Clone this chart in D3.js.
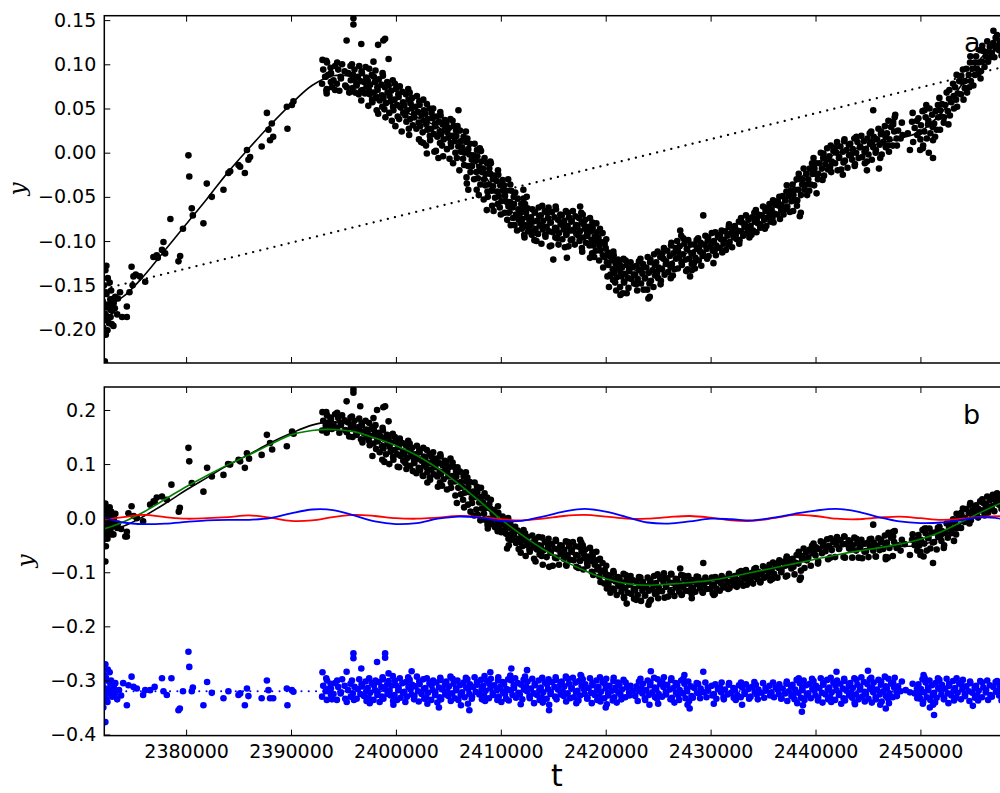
<!DOCTYPE html>
<html>
<head>
<meta charset="utf-8">
<title>Periodic model fit and residuals</title>
<style>
  body { margin: 0; background: #ffffff; }
  svg { display: block; font-family: "DejaVu Sans", sans-serif; }
</style>
</head>
<body>
<div id="chart"></div>
<script src="https://cdn.jsdelivr.net/npm/d3@7"></script>
<script>
// Times below are in thousands of days (2380 means t = 2380000)
var T_UNIT = 1000;

var xTicks = [2380000, 2390000, 2400000, 2410000, 2420000, 2430000, 2440000, 2450000];
var yTicksA = [-0.20, -0.15, -0.10, -0.05, 0.00, 0.05, 0.10, 0.15];
var yTicksB = [-0.4, -0.3, -0.2, -0.1, 0.0, 0.1, 0.2];

// sample times of the fitted curves
var tCurve = [2372,2374,2376,2378,2380,2382,2384,2386,2388,2390,2392,2394,2396,2398,2400,2402,2404,2406,2408,2410,2412,2414,2416,2418,2420,2422,2424,2426,2428,2430,2432,2434,2436,2438,2440,2442,2444,2446,2448,2450,2452,2454,2456,2458];

// panel a: full fit (black line)
var fitA = [-0.176,-0.163,-0.139,-0.110,-0.081,-0.052,-0.022,0.005,0.031,0.055,0.076,0.087,0.085,0.068,0.052,0.040,0.029,0.010,-0.018,-0.052,-0.077,-0.086,-0.089,-0.095,-0.112,-0.129,-0.135,-0.125,-0.112,-0.101,-0.093,-0.081,-0.058,-0.035,-0.014,-0.001,0.005,0.010,0.016,0.024,0.045,0.078,0.110,0.128];

// panel a: linear trend (dotted)
var trendT = [2372.2, 2458.6];
var trendA = [-0.154, 0.099];

// panel b: detrended fit (black), long component (green), short components (red, blue)
var fitB = [-0.022,-0.015,0.004,0.027,0.052,0.075,0.098,0.118,0.139,0.157,0.172,0.178,0.170,0.147,0.124,0.107,0.091,0.066,0.032,-0.009,-0.040,-0.055,-0.063,-0.075,-0.098,-0.121,-0.133,-0.129,-0.121,-0.116,-0.114,-0.108,-0.091,-0.072,-0.058,-0.052,-0.051,-0.052,-0.052,-0.050,-0.035,-0.008,0.019,0.033];
var greenB = [-0.021,-0.007,0.012,0.035,0.058,0.079,0.099,0.117,0.136,0.154,0.162,0.164,0.160,0.148,0.134,0.116,0.092,0.063,0.031,-0.002,-0.031,-0.057,-0.079,-0.097,-0.112,-0.121,-0.124,-0.122,-0.119,-0.115,-0.108,-0.100,-0.092,-0.084,-0.076,-0.068,-0.061,-0.055,-0.048,-0.039,-0.025,-0.006,0.013,0.031];
var redB = [-0.003,0.002,0.006,0.002,-0.001,0.000,0.002,0.005,0.001,-0.005,-0.004,0.002,0.006,0.004,0.000,-0.001,0.001,0.004,0.002,-0.002,-0.004,-0.001,0.004,0.006,0.003,-0.001,-0.001,0.002,0.004,0.001,-0.004,-0.005,0.000,0.006,0.004,-0.001,-0.002,0.001,0.003,0.000,-0.003,-0.001,0.003,0.004];
var blueB = [0.002,-0.008,-0.011,-0.010,-0.007,-0.004,-0.003,-0.003,0.000,0.009,0.016,0.015,0.005,-0.006,-0.011,-0.009,-0.001,0.003,0.001,-0.005,-0.005,0.003,0.012,0.017,0.012,0.002,-0.008,-0.010,-0.006,-0.001,-0.002,-0.004,0.001,0.008,0.014,0.017,0.012,0.002,-0.006,-0.009,-0.008,-0.003,0.002,-0.002];

// residual zero line (blue dotted)
var residLevel = -0.32;

// Observations. Dense parts are read as 0.5k-wide strips: [t, y, y, ...];
// isolated points as [t, y].
var colsA = [
[2372.3,-.133,-.142,-.150,-.160,-.168,-.175,-.182,-.190,-.198,-.206],
[2372.6,-.147,-.158,-.166,-.172,-.178,-.185,-.193,-.201],
[2372.9,-.156,-.165,-.172,-.179,-.186,-.194],
[2373.2,-.163,-.170,-.176,-.183,-.196],
[2393.2,.102,.094,.086,.078,.070],[2393.6,.104,.096,.088,.080,.072],[2394,.098,.090,.082,.074],
[2394.5,.102,.094,.086,.078,.070],[2395,.100,.092,.084,.076],[2395.5,.098,.090,.082,.074,.068],
[2396,.100,.094,.088,.083,.078,.073,.068],[2396.5,.098,.092,.086,.081,.076,.070,.066,.059],
[2397,.097,.090,.085,.080,.075,.071,.067],[2397.5,.095,.088,.082,.077,.072,.066,.060,.053],
[2398,.093,.086,.080,.074,.068,.062,.057,.048],[2398.5,.090,.083,.077,.071,.065,.059,.052,.044],
[2399,.087,.080,.074,.068,.062,.056,.049,.040],[2399.5,.082,.076,.070,.064,.058,.052,.045,.036],
[2400,.078,.072,.066,.060,.054,.048,.041,.030],[2400.5,.075,.069,.063,.057,.051,.045,.038,.024],
[2401,.072,.066,.060,.054,.048,.042,.035,.027],[2401.5,.068,.062,.056,.050,.044,.038,.031,.020],
[2402,.064,.058,.052,.046,.040,.034,.027,.015],[2402.5,.060,.054,.048,.042,.036,.030,.023,.012],
[2403,.055,.050,.044,.038,.032,.026,.019,.008],[2403.5,.050,.045,.039,.033,.027,.021,.014,.001],
[2404,.046,.041,.035,.030,.024,.018,.011,.002],[2404.5,.042,.037,.032,.027,.021,.015,.008,-.004],
[2405,.038,.033,.028,.023,.017,.011,.004,-.007],[2405.5,.036,.030,.025,.019,.013,.007,.000,-.012],
[2406,.030,.025,.019,.013,.007,.001,-.006,-.020],[2406.5,.024,.018,.012,.006,.000,-.007,-.014,-.028],
[2407,.016,.010,.004,-.002,-.008,-.015,-.022,-.035],[2407.5,.010,.003,-.003,-.009,-.015,-.022,-.030,-.042],
[2408,.002,-.004,-.010,-.016,-.022,-.029,-.036,-.048],[2408.5,-.006,-.012,-.018,-.024,-.030,-.037,-.044,-.053],
[2409,-.012,-.018,-.024,-.030,-.036,-.043,-.050,-.060],[2409.5,-.020,-.026,-.032,-.038,-.044,-.051,-.058,-.066],
[2410,-.025,-.031,-.037,-.043,-.049,-.055,-.062,-.070],[2410.5,-.030,-.037,-.043,-.049,-.055,-.061,-.068,-.076],
[2411,-.036,-.043,-.050,-.056,-.062,-.068,-.074,-.082],[2411.5,-.045,-.052,-.058,-.064,-.070,-.076,-.082,-.088],
[2412,-.052,-.058,-.064,-.069,-.075,-.080,-.086,-.093],[2412.5,-.058,-.063,-.068,-.073,-.078,-.083,-.089,-.096],
[2413,-.064,-.068,-.073,-.078,-.083,-.088,-.093,-.099],[2413.5,-.062,-.067,-.072,-.077,-.082,-.087,-.092,-.100],
[2414,-.060,-.066,-.071,-.077,-.082,-.087,-.093,-.103],[2414.5,-.062,-.068,-.074,-.079,-.084,-.089,-.095,-.106],
[2415,-.061,-.067,-.073,-.079,-.085,-.090,-.096,-.105],[2415.5,-.064,-.070,-.076,-.081,-.086,-.091,-.097,-.104],
[2416,-.066,-.071,-.077,-.082,-.087,-.092,-.098,-.107],[2416.5,-.068,-.073,-.078,-.083,-.088,-.093,-.099,-.106],
[2417,-.066,-.072,-.077,-.082,-.087,-.092,-.098,-.104],[2417.5,-.068,-.074,-.079,-.084,-.089,-.094,-.100,-.108],
[2418,-.070,-.076,-.081,-.086,-.091,-.096,-.102,-.112],[2418.5,-.074,-.079,-.084,-.089,-.094,-.099,-.105,-.114],
[2419,-.080,-.085,-.090,-.095,-.100,-.105,-.111,-.118],[2419.5,-.086,-.091,-.096,-.101,-.106,-.111,-.116,-.122],
[2420,-.098,-.103,-.108,-.113,-.118,-.124,-.130,-.140],[2420.5,-.112,-.117,-.122,-.127,-.132,-.138,-.144,-.152],
[2421,-.116,-.121,-.126,-.131,-.136,-.141,-.147,-.156],[2421.5,-.120,-.125,-.130,-.135,-.140,-.146,-.152,-.159],
[2422,-.122,-.127,-.132,-.137,-.142,-.147,-.153],[2422.5,-.124,-.129,-.134,-.138,-.143,-.148],
[2423,-.123,-.128,-.133,-.138,-.143,-.149,-.156],[2423.5,-.120,-.126,-.132,-.137,-.142,-.148,-.155],
[2424,-.118,-.124,-.130,-.136,-.142,-.148,-.155,-.163],[2424.5,-.115,-.121,-.127,-.133,-.139,-.145,-.152],
[2425,-.112,-.118,-.124,-.130,-.136,-.142,-.149],[2425.5,-.108,-.114,-.120,-.126,-.132,-.138,-.145],
[2426,-.105,-.111,-.117,-.123,-.129,-.135,-.142],[2426.5,-.102,-.108,-.114,-.120,-.126,-.132,-.139],
[2427,-.094,-.100,-.106,-.112,-.118,-.124,-.131],[2427.5,-.097,-.103,-.109,-.115,-.121,-.127,-.134],
[2428,-.099,-.104,-.109,-.114,-.120,-.126,-.132],[2428.5,-.099,-.104,-.109,-.114,-.119,-.125,-.131],
[2429,-.097,-.102,-.107,-.112,-.117,-.122,-.128],[2429.5,-.094,-.099,-.104,-.109,-.114,-.120],
[2430,-.091,-.096,-.101,-.106,-.111,-.117],[2430.5,-.090,-.095,-.100,-.105,-.110,-.116],
[2431,-.088,-.093,-.098,-.103,-.108,-.113],[2431.5,-.084,-.089,-.094,-.099,-.104,-.110],
[2432,-.081,-.086,-.091,-.096,-.101,-.107],[2432.5,-.078,-.083,-.088,-.093,-.098,-.103],
[2433,-.074,-.079,-.084,-.089,-.094,-.099],[2433.5,-.071,-.076,-.081,-.086,-.091,-.096],
[2434,-.068,-.073,-.078,-.083,-.088,-.093],[2434.5,-.065,-.070,-.075,-.080,-.085,-.090],
[2435,-.061,-.066,-.071,-.076,-.081,-.086],[2435.5,-.058,-.063,-.068,-.073,-.078,-.083],
[2436,-.054,-.059,-.064,-.069,-.074,-.079],[2436.5,-.050,-.055,-.060,-.065,-.070,-.075],
[2437,-.044,-.049,-.054,-.059,-.064,-.070],[2437.5,-.037,-.043,-.049,-.055,-.061,-.067],
[2438,-.030,-.036,-.042,-.048,-.054,-.060,-.066],[2438.5,-.024,-.030,-.036,-.042,-.048,-.054],
[2439,-.018,-.024,-.030,-.036,-.042,-.048],[2439.5,-.012,-.018,-.024,-.030,-.036,-.043],
[2440,-.006,-.012,-.018,-.024,-.030,-.037],[2440.5,.000,-.006,-.012,-.018,-.024,-.031],
[2441,.005,-.001,-.007,-.013,-.019,-.026],[2441.5,.008,.002,-.004,-.010,-.016,-.022],
[2442,.012,.006,.000,-.006,-.012,-.020],[2442.5,.013,.007,.001,-.005,-.011,-.019],
[2443,.015,.009,.003,-.003,-.009,-.017],[2443.5,.016,.010,.004,-.002,-.008,-.015],
[2444,.018,.012,.006,.000,-.006,-.013],[2444.5,.019,.013,.007,.001,-.005,-.012],
[2445,.022,.016,.010,.004,-.002,-.010],[2445.5,.024,.018,.012,.006,.000,-.008],
[2446,.027,.021,.015,.009,.003,-.006],[2446.5,.030,.024,.018,.012,.006,-.002],
[2447,.036,.029,.022,.015,.008,.001],[2447.5,.040,.032,.024,.016,.008],
[2448,.034,.025,.016,.008],
[2449.5,.045,.036,.028,.020,.012],[2450,.047,.039,.031,.023,.015,.005],[2450.5,.048,.040,.032,.024,.016,.008],
[2451,.050,.043,.036,.029,.022,.014],[2451.5,.054,.047,.040,.033,.026,.018],
[2452,.062,.055,.048,.041,.034,.026],[2452.5,.068,.061,.054,.047,.040,.032],
[2453,.078,.071,.064,.057,.050,.042],[2453.5,.088,.081,.074,.067,.060,.052],
[2454,.094,.087,.080,.073,.066,.060],[2454.5,.102,.095,.088,.081,.074,.068],
[2455,.109,.102,.095,.088,.081,.076],[2455.5,.116,.109,.102,.095,.089,.084],
[2456,.121,.115,.109,.103,.097,.092],[2456.5,.126,.120,.114,.108,.103],
[2457,.130,.124,.118,.113,.108],[2457.5,.133,.127,.121,.116,.110],
[2458,.136,.130,.124,.119,.114],[2458.5,.138,.132,.126,.121]
];
var sparseA = [
[2372.25,-.236],[2372.4,-.128],[2373.5,-.165],[2373.7,-.158],[2373.9,-.186],[2374.35,-.174],[2374.35,-.186],
[2374.8,-.129],[2374.98,-.140],[2375.2,-.138],[2375.6,-.140],[2376.1,-.146],[2374.6,-.158],[2374.9,-.150],
[2376.88,-.118],[2377.2,-.116],[2377.3,-.119],[2377.7,-.110],[2377.84,-.101],[2378.0,-.114],[2378.5,-.075],
[2379.27,-.123],[2379.43,-.117],[2379.7,-.086],[2380.22,-.003],[2380.3,-.027],[2380.54,-.063],[2380.64,-.071],
[2381.65,-.080],[2381.97,-.035],[2382.45,-.050],[2383.56,-.042],[2384.03,-.023],[2384.2,-.021],[2384.99,-.014],
[2385.15,-.016],[2385.6,-.023],[2385.8,.003],[2385.94,-.008],[2386.1,-.005],[2387.2,.007],[2387.7,.045],
[2387.85,.026],[2388.0,.014],[2388.3,.018],[2388.17,.033],[2389.6,.052],[2389.66,.027],[2390.08,.054],[2390.23,.058],
[2393.4,.067],[2393.25,.086],[2394.2,.071],[2395.95,.152],[2395.95,.145],[2395.3,.127],[2396.7,.123],[2398.3,.122],
[2398.97,.129],[2398.8,.127],[2399.3,.106],[2397.86,.103],[2393.0,.105],
[2402.6,.011],[2402.95,-.001],[2404.05,-.006],[2405.96,.048],[2408.0,.005],[2409.0,-.010],[2406.9,-.042],
[2408.66,-.065],[2412.15,-.042],[2412.47,-.050],[2417.56,-.061],[2415.0,-.121],[2416.3,-.119],[2418.5,-.119],
[2421.4,-.161],[2422.0,-.159],[2424.07,-.165],[2427.1,-.088],[2428.2,-.133],[2429.3,-.071],[2430.27,-.125],
[2428.04,-.140],[2438.5,-.072],[2438.6,-.068],[2440.1,-.046],[2442.6,-.025],[2445.5,.048],[2444.9,-.020],
[2446.05,-.018],[2447.6,.043],[2447.4,.035],[2449.0,.003],[2449.97,.003],[2450.8,.000],[2451.2,-.006],
[2450.56,.054],[2456.96,.138],[2448.3,.020],[2448.8,.022],[2449.2,.035]
];

// panel b observations after removing the trend
var colsB = [
[2372.3,.027,.018,.010,.002,-.006,-.014,-.022,-.030,-.040,-.052],
[2372.6,.020,.011,.003,-.005,-.013,-.021,-.029,-.038],
[2372.9,.012,.004,-.004,-.012,-.020,-.030],
[2373.2,.008,-.002,-.010,-.018,-.030],
[2393.2,.190,.180,.171,.162],[2393.6,.196,.186,.177,.168,.160],[2394,.192,.183,.174,.165],
[2394.5,.195,.185,.176,.167,.158],[2395,.190,.181,.172,.163],[2395.5,.186,.177,.168,.159,.151],
[2396,.188,.180,.172,.165,.158,.150],[2396.5,.184,.176,.168,.161,.154,.146],
[2397,.180,.172,.164,.157,.149,.140],[2397.5,.176,.168,.160,.152,.144,.135],
[2398,.172,.163,.155,.147,.138,.128,.115],[2398.5,.167,.158,.150,.142,.133,.122,.108],
[2399,.162,.154,.146,.138,.129,.118,.104],[2399.5,.156,.148,.140,.132,.123,.113,.100],
[2400,.150,.142,.134,.126,.118,.108,.095],[2400.5,.147,.139,.131,.123,.115,.106,.094],
[2401,.143,.135,.127,.119,.111,.102,.091],[2401.5,.138,.130,.122,.114,.106,.097,.087],
[2402,.134,.126,.118,.110,.102,.093,.083],[2402.5,.130,.122,.114,.106,.098,.089,.079],
[2403,.126,.118,.110,.102,.094,.085,.075],[2403.5,.122,.114,.106,.098,.090,.081,.071],
[2404,.118,.110,.102,.094,.086,.077,.066],[2404.5,.114,.106,.098,.090,.082,.072,.060],
[2405,.110,.102,.094,.086,.077,.066,.053],[2405.5,.103,.095,.087,.078,.068,.056,.042],
[2406,.094,.086,.077,.067,.056,.044,.028],[2406.5,.085,.077,.068,.058,.047,.034,.020],
[2407,.075,.067,.058,.048,.037,.025,.012],[2407.5,.066,.058,.049,.039,.028,.016,.005],
[2408,.056,.048,.039,.029,.018,.006,-.004],[2408.5,.046,.038,.029,.019,.008,-.003,-.012],
[2409,.034,.026,.018,.009,-.001,-.011,-.019],[2409.5,.022,.015,.007,-.001,-.009,-.017,-.024],
[2410,.010,.003,-.004,-.011,-.018,-.026],[2410.5,.000,-.007,-.014,-.021,-.029,-.038],
[2411,-.010,-.017,-.024,-.031,-.039,-.050],[2411.5,-.016,-.023,-.030,-.038,-.046,-.057],
[2412,-.022,-.029,-.036,-.044,-.052,-.064],[2412.5,-.028,-.035,-.042,-.050,-.058,-.070],
[2413,-.032,-.039,-.046,-.054,-.062,-.075],[2413.5,-.035,-.042,-.050,-.058,-.067,-.080],
[2414,-.036,-.044,-.052,-.060,-.070,-.086],[2414.5,-.038,-.046,-.054,-.062,-.072,-.090],
[2415,-.040,-.048,-.056,-.064,-.073,-.088],[2415.5,-.042,-.050,-.058,-.066,-.074,-.086],
[2416,-.043,-.051,-.059,-.067,-.075,-.086],[2416.5,-.044,-.052,-.060,-.068,-.077,-.088],
[2417,-.044,-.052,-.060,-.068,-.078,-.090],[2417.5,-.045,-.053,-.061,-.069,-.079,-.092],
[2418,-.050,-.058,-.066,-.074,-.083,-.095],[2418.5,-.055,-.063,-.071,-.079,-.088,-.099],
[2419,-.062,-.070,-.078,-.086,-.095,-.105],[2419.5,-.075,-.083,-.091,-.099,-.108,-.118],
[2420,-.088,-.096,-.104,-.112,-.121,-.130],[2420.5,-.098,-.106,-.114,-.122,-.130,-.138],
[2421,-.101,-.109,-.117,-.125,-.133,-.142],[2421.5,-.103,-.111,-.119,-.127,-.136,-.146],
[2422,-.105,-.113,-.121,-.129,-.138,-.148],[2422.5,-.107,-.115,-.123,-.131,-.140,-.149],
[2423,-.109,-.117,-.125,-.133,-.142,-.151],[2423.5,-.110,-.118,-.126,-.134,-.143,-.153],
[2424,-.110,-.118,-.126,-.134,-.143,-.154],[2424.5,-.107,-.115,-.123,-.131,-.140,-.151],
[2425,-.104,-.112,-.120,-.128,-.137,-.148],[2425.5,-.102,-.110,-.118,-.126,-.135,-.147],
[2426,-.103,-.111,-.119,-.127,-.135,-.145],[2426.5,-.104,-.112,-.120,-.128,-.136,-.144],
[2427,-.105,-.113,-.121,-.129,-.136,-.142],[2427.5,-.106,-.113,-.120,-.127,-.134,-.141],
[2428,-.107,-.114,-.121,-.128,-.135,-.140],[2428.5,-.108,-.115,-.122,-.129,-.136],
[2429,-.109,-.116,-.123,-.130,-.137],[2429.5,-.110,-.117,-.124,-.131,-.138],
[2430,-.110,-.117,-.124,-.131,-.139],[2430.5,-.109,-.116,-.123,-.130,-.140],
[2431,-.107,-.114,-.121,-.128,-.134],[2431.5,-.105,-.112,-.119,-.126,-.131],
[2432,-.103,-.110,-.117,-.124,-.129],[2432.5,-.100,-.107,-.114,-.121,-.127],
[2433,-.098,-.105,-.112,-.119,-.125],[2433.5,-.096,-.103,-.110,-.117,-.123],
[2434,-.094,-.101,-.108,-.115,-.121],[2434.5,-.092,-.099,-.106,-.113,-.119],
[2435,-.089,-.096,-.103,-.110,-.117],[2435.5,-.086,-.093,-.100,-.107,-.115],
[2436,-.082,-.089,-.096,-.103,-.112],[2436.5,-.078,-.085,-.092,-.100,-.110],
[2437,-.074,-.081,-.088,-.096,-.108],[2437.5,-.071,-.078,-.085,-.093,-.106],
[2438,-.068,-.075,-.082,-.090,-.104],[2438.5,-.062,-.069,-.076,-.084,-.097],
[2439,-.056,-.063,-.070,-.078,-.092],[2439.5,-.051,-.058,-.065,-.073,-.088],
[2440,-.047,-.054,-.061,-.069,-.084],[2440.5,-.043,-.050,-.057,-.065,-.080],
[2441,-.039,-.046,-.053,-.061,-.076],[2441.5,-.037,-.044,-.051,-.059,-.073],
[2442,-.035,-.042,-.049,-.057,-.072],[2442.5,-.034,-.041,-.048,-.056,-.072],
[2443,-.034,-.041,-.048,-.056,-.073],[2443.5,-.036,-.043,-.050,-.058,-.073],
[2444,-.038,-.045,-.052,-.060,-.073],[2444.5,-.040,-.047,-.054,-.062,-.074],
[2445,-.039,-.046,-.053,-.061,-.072],[2445.5,-.038,-.045,-.052,-.060,-.071],
[2446,-.037,-.044,-.051,-.059,-.071],[2446.5,-.032,-.040,-.048,-.057,-.072],
[2447,-.027,-.036,-.045,-.055,-.073],[2447.5,-.024,-.034,-.044,-.055,-.070],
[2448,-.040,-.050,-.060],
[2449.5,-.030,-.040,-.050,-.060],[2450,-.022,-.031,-.040,-.050,-.062],
[2450.5,-.019,-.028,-.037,-.047,-.060],[2451,-.019,-.027,-.036,-.045,-.056],
[2451.5,-.018,-.026,-.035,-.044,-.058],[2452,-.016,-.024,-.033,-.042,-.055],
[2452.5,-.010,-.018,-.027,-.036,-.050],[2453,-.002,-.010,-.019,-.028,-.042],
[2453.5,.008,.000,-.009,-.018,-.030],[2454,.018,.010,.002,-.007,-.018],
[2454.5,.025,.017,.009,.000,-.010],[2455,.028,.021,.014,.006,-.004],
[2455.5,.031,.024,.017,.010,.001],[2456,.035,.028,.021,.014,.005],
[2456.5,.040,.033,.026,.019,.010],[2457,.043,.036,.029,.022,.013],
[2457.5,.046,.039,.032,.025,.017],[2458,.048,.041,.034,.027,.020],[2458.5,.050,.043,.036,.029]
];
var sparseB = [
[2372.3,-.080],[2373.5,-.010],[2373.8,-.020],[2374.2,-.034],[2374.8,.022],[2374.5,.009],[2374.35,-.034],
[2374.35,-.025],[2375.0,.004],[2375.3,.000],[2375.9,-.006],[2376.57,.025],[2376.9,.031],[2377.7,.040],
[2378.16,.034],[2378.6,.062],[2379.4,.019],[2379.3,.012],[2380.22,.130],[2380.3,.105],[2380.54,.065],
[2381.65,.049],[2382.0,.093],[2382.45,.077],[2383.56,.080],[2384.2,.099],[2385.15,.105],[2385.6,.093],
[2385.8,.120],[2385.0,.108],[2387.2,.117],[2387.7,.154],[2388.0,.139],[2388.2,.127],[2389.6,.133],
[2390.1,.160],[2390.25,.156],[2377.2,.038],[2377.0,.030],[2384.0,.100],[2386.0,.110],
[2395.3,.216],[2395.95,.238],[2395.95,.232],[2396.6,.207],[2398.2,.200],[2398.97,.207],[2399.3,.179],
[2397.86,.185],[2398.8,.205],[2393.4,.158],[2393.0,.196],
[2417.56,-.040],[2422.0,-.158],[2424.07,-.160],[2427.1,-.093],[2429.3,-.083],[2430.3,-.142],[2428.2,-.148],
[2438.5,-.114],[2438.6,-.110],[2445.5,-.012],[2447.4,-.025],[2446.7,-.076],[2449.0,-.068],[2450.0,-.068],
[2450.3,-.071],[2451.2,-.083],[2450.56,-.019],[2456.9,.043],[2448.5,-.048],[2449.2,-.040],[2411.0,-.040],
[2402.6,.078],[2403.0,.066],[2404.0,.058],[2410.6,-.056]
];

// panel b residuals (blue points, drawn around the -0.32 level)
var colsR = [
[2372.3,-.270,-.280,-.290,-.300,-.310,-.320,-.330,-.340,-.350],
[2372.6,-.285,-.295,-.305,-.315,-.325,-.335],
[2372.9,-.300,-.310,-.320,-.330],[2373.2,-.305,-.315,-.325,-.335],
[2393.2,-.300,-.310,-.320,-.330],[2393.6,-.296,-.306,-.316,-.326,-.336],[2394,-.305,-.315,-.325,-.335],
[2394.5,-.300,-.312,-.324,-.336],[2395,-.298,-.310,-.322,-.334],[2395.5,-.306,-.318,-.330,-.340],
[2396,-.300,-.312,-.324,-.336],
[2396.5,-.298,-.307,-.316,-.325,-.334],[2397,-.302,-.311,-.320,-.329,-.338],
[2397.5,-.296,-.305,-.314,-.323,-.332,-.342],[2398,-.300,-.309,-.318,-.327,-.336],
[2398.5,-.294,-.303,-.312,-.321,-.330,-.340],[2399,-.298,-.307,-.316,-.325,-.334],
[2399.5,-.292,-.301,-.310,-.319,-.328,-.338],[2400,-.300,-.309,-.318,-.327,-.336,-.345],
[2400.5,-.296,-.305,-.314,-.323,-.332],[2401,-.294,-.303,-.312,-.321,-.330,-.340],
[2401.5,-.299,-.308,-.317,-.326,-.335],[2402,-.293,-.302,-.311,-.320,-.329,-.339],
[2402.5,-.298,-.307,-.316,-.325,-.334],[2403,-.296,-.305,-.314,-.323,-.332,-.343],
[2403.5,-.300,-.309,-.318,-.327,-.336],[2404,-.295,-.304,-.313,-.322,-.331,-.341],
[2404.5,-.299,-.308,-.317,-.326,-.335],[2405,-.293,-.302,-.311,-.320,-.329,-.338],
[2405.5,-.297,-.306,-.315,-.324,-.333],[2406,-.300,-.309,-.318,-.327,-.336,-.346],
[2406.5,-.295,-.304,-.313,-.322,-.331],[2407,-.298,-.307,-.316,-.325,-.334,-.343],
[2407.5,-.294,-.303,-.312,-.321,-.330],[2408,-.299,-.308,-.317,-.326,-.335],
[2408.5,-.292,-.301,-.310,-.319,-.328,-.338],[2409,-.297,-.306,-.315,-.324,-.333],
[2409.5,-.300,-.309,-.318,-.327,-.336],[2410,-.294,-.303,-.312,-.321,-.330,-.340],
[2410.5,-.298,-.307,-.316,-.325,-.334],[2411,-.291,-.300,-.309,-.318,-.327,-.337],
[2411.5,-.296,-.305,-.314,-.323,-.332],[2412,-.299,-.308,-.317,-.326,-.335,-.344],
[2412.5,-.293,-.302,-.311,-.320,-.329],[2413,-.297,-.306,-.315,-.324,-.333,-.342],
[2413.5,-.300,-.309,-.318,-.327,-.336],[2414,-.295,-.304,-.313,-.322,-.331,-.341],
[2414.5,-.298,-.307,-.316,-.325,-.334,-.345],[2415,-.294,-.303,-.312,-.321,-.330],
[2415.5,-.299,-.308,-.317,-.326,-.335],[2416,-.293,-.302,-.311,-.320,-.329,-.339],
[2416.5,-.297,-.306,-.315,-.324,-.333],[2417,-.295,-.304,-.313,-.322,-.331,-.342],
[2417.5,-.292,-.301,-.310,-.319,-.328,-.337],[2418,-.298,-.307,-.316,-.325,-.334],
[2418.5,-.296,-.305,-.314,-.323,-.332,-.342],[2419,-.300,-.309,-.318,-.327,-.336],
[2419.5,-.294,-.303,-.312,-.321,-.330,-.339],[2420,-.297,-.306,-.315,-.324,-.333,-.344],
[2420.5,-.301,-.310,-.319,-.328,-.337],[2421,-.295,-.304,-.313,-.322,-.331,-.341],
[2421.5,-.299,-.308,-.317,-.326,-.335],[2422,-.304,-.313,-.322,-.331],[2422.5,-.310,-.319,-.328],
[2423,-.302,-.311,-.320,-.329,-.338],[2423.5,-.297,-.306,-.315,-.324,-.333],
[2424,-.300,-.309,-.318,-.327,-.336,-.345],[2424.5,-.295,-.304,-.313,-.322,-.331],
[2425,-.298,-.307,-.316,-.325,-.334,-.343],[2425.5,-.294,-.303,-.312,-.321,-.330],
[2426,-.299,-.308,-.317,-.326,-.335],[2426.5,-.296,-.305,-.314,-.323,-.332,-.341],
[2427,-.300,-.309,-.318,-.327,-.336],[2427.5,-.297,-.306,-.315,-.324,-.333],
[2428,-.302,-.311,-.320,-.329,-.338],[2428.5,-.305,-.314,-.323,-.332],
[2429,-.306,-.315,-.324,-.333],[2429.5,-.304,-.313,-.322,-.331],[2430,-.310,-.319,-.328],
[2430.5,-.307,-.316,-.325,-.334],[2431,-.304,-.313,-.322,-.331],[2431.5,-.308,-.317,-.326,-.335],
[2432,-.305,-.314,-.323,-.332],[2432.5,-.309,-.318,-.327,-.336],[2433,-.304,-.313,-.322,-.331],
[2433.5,-.307,-.316,-.325,-.334],[2434,-.303,-.312,-.321,-.330],[2434.5,-.308,-.317,-.326,-.335],
[2435,-.305,-.314,-.323,-.332],[2435.5,-.310,-.319,-.328],[2436,-.304,-.313,-.322,-.331],
[2436.5,-.307,-.316,-.325,-.334],[2437,-.306,-.315,-.324,-.333],
[2437.5,-.302,-.311,-.320,-.329,-.338],[2438,-.299,-.308,-.317,-.326,-.335],
[2438.5,-.296,-.305,-.314,-.323,-.332,-.342],[2439,-.300,-.309,-.318,-.327,-.336],
[2439.5,-.297,-.306,-.315,-.324,-.333],[2440,-.301,-.310,-.319,-.328,-.337],
[2440.5,-.296,-.305,-.314,-.323,-.332,-.341],[2441,-.299,-.308,-.317,-.326,-.335],
[2441.5,-.295,-.304,-.313,-.322,-.331,-.340],[2442,-.300,-.309,-.318,-.327,-.336],
[2442.5,-.297,-.306,-.315,-.324,-.333,-.343],[2443,-.301,-.310,-.319,-.328,-.337],
[2443.5,-.296,-.305,-.314,-.323,-.332,-.341],[2444,-.299,-.308,-.317,-.326,-.335,-.344],
[2444.5,-.294,-.303,-.312,-.321,-.330,-.339],[2445,-.298,-.307,-.316,-.325,-.334],
[2445.5,-.295,-.304,-.313,-.322,-.331,-.341],[2446,-.299,-.308,-.317,-.326,-.335,-.345],
[2446.5,-.293,-.302,-.311,-.320,-.329,-.339],[2447,-.297,-.306,-.315,-.324,-.333,-.342],
[2447.5,-.295,-.304,-.313,-.322,-.331],[2448,-.302,-.311,-.320,-.329],
[2449.5,-.306,-.315,-.324,-.333],[2450,-.298,-.307,-.316,-.325,-.334,-.343],
[2450.5,-.295,-.304,-.313,-.322,-.331,-.340],[2451,-.300,-.309,-.318,-.327,-.336,-.345],
[2451.5,-.296,-.305,-.314,-.323,-.332,-.341],[2452,-.299,-.308,-.317,-.326,-.335],
[2452.5,-.297,-.306,-.315,-.324,-.333,-.342],[2453,-.301,-.310,-.319,-.328,-.337],
[2453.5,-.296,-.305,-.314,-.323,-.332],[2454,-.299,-.308,-.317,-.326,-.335],
[2454.5,-.302,-.311,-.320,-.329,-.338],[2455,-.305,-.314,-.323,-.332],
[2455.5,-.301,-.310,-.319,-.328,-.337],[2456,-.304,-.313,-.322,-.331],
[2456.5,-.300,-.309,-.318,-.327,-.336],[2457,-.303,-.312,-.321,-.330],
[2457.5,-.301,-.310,-.319,-.328,-.337],[2458,-.304,-.313,-.322,-.331],[2458.5,-.302,-.311,-.320,-.329]
];
var sparseR = [
[2372.3,-.377],[2374.8,-.293],[2374.5,-.309],[2374.35,-.346],[2374.98,-.312],[2375.3,-.315],[2375.9,-.327],
[2376.1,-.318],[2376.57,-.318],[2377.0,-.312],[2377.7,-.296],[2377.84,-.320],[2378.16,-.327],[2378.6,-.296],
[2379.4,-.352],[2379.27,-.355],[2379.7,-.320],[2380.22,-.247],[2380.3,-.275],[2380.54,-.320],[2380.64,-.313],
[2381.65,-.346],[2382.0,-.303],[2382.45,-.323],[2383.56,-.333],[2384.03,-.320],[2384.99,-.327],[2385.15,-.324],
[2385.6,-.346],[2385.8,-.315],[2385.94,-.329],[2387.2,-.333],[2387.7,-.300],[2387.85,-.318],[2388.0,-.333],
[2388.3,-.333],[2389.6,-.315],[2389.66,-.346],[2390.08,-.318],[2390.23,-.321],[2373.6,-.318],[2373.8,-.328],
[2374.0,-.305],
[2395.95,-.250],[2395.95,-.259],[2395.3,-.284],[2396.7,-.278],[2398.2,-.266],[2398.97,-.250],[2398.97,-.258],
[2399.3,-.287],[2393.0,-.285],[2411.0,-.278],[2412.5,-.281],[2417.6,-.290],[2414.6,-.355],[2427.5,-.290],
[2427.8,-.345],[2407.0,-.355],[2404.1,-.350],[2429.3,-.284],[2445.0,-.282],[2450.3,-.290],[2438.7,-.358],
[2438.8,-.346],[2446.7,-.352],[2450.9,-.350],[2451.3,-.364],[2428.0,-.352],[2430.3,-.343],[2420.0,-.350],
[2448.6,-.318],[2449.0,-.322],[2401.5,-.283],[2409.0,-.285],[2424.3,-.283],[2433.0,-.345],[2442.0,-.284],
[2455.0,-.347]
];

// ---------- layout ----------
var W = 1000, H = 793;
var left = 104.3, right = 1010;      // right spine falls just outside the picture
var panelA = {top: 15.7, bottom: 363, domain: [-0.238, 0.155]};
var panelB = {top: 387, bottom: 735.6, domain: [-0.402, 0.2425]};

// samples of one strip are spread over the strip width (in thousands of days)
var stripSpread = [0, 0.23, -0.13, 0.11, -0.24, 0.17, -0.05, 0.2, -0.19, 0.05, -0.1];

var svg = d3.select("#chart").append("svg")
  .attr("width", W).attr("height", H);

var x = d3.scaleLinear()
  .domain([2372200, 2458540])
  .range([left, right]);

function flatten(cols, singles) {
  var out = [];
  cols.forEach(function(c, j) {
    c.slice(1).forEach(function(v, i) {
      var dt = stripSpread[(i + j * 3) % stripSpread.length];
      out.push([(c[0] + dt) * T_UNIT, v]);
    });
  });
  singles.forEach(function(p) { out.push([p[0] * T_UNIT, p[1]]); });
  return out;
}

function curve(ts, vals) {
  return ts.map(function(t, i) { return [t * T_UNIT, vals[i]]; });
}

function makePanel(p, id, yTicks, fmt, showXLabels) {
  var y = d3.scaleLinear().domain(p.domain).range([p.bottom, p.top]);

  svg.append("clipPath").attr("id", id)
    .append("rect")
      .attr("x", left).attr("y", p.top)
      .attr("width", right - left).attr("height", p.bottom - p.top);

  var plot = svg.append("g").attr("clip-path", "url(#" + id + ")");

  // axes with inward ticks
  var yAxis = svg.append("g")
    .attr("transform", "translate(" + left + ",0)")
    .call(d3.axisLeft(y).tickValues(yTicks).tickFormat(d3.format(fmt))
      .tickSize(-6).tickPadding(8));
  var xAxis = svg.append("g")
    .attr("transform", "translate(0," + p.bottom + ")")
    .call(d3.axisBottom(x).tickValues(xTicks).tickFormat(showXLabels ? d3.format("d") : "")
      .tickSize(-6).tickPadding(9));
  var xTop = svg.append("g")
    .attr("transform", "translate(0," + p.top + ")")
    .call(d3.axisTop(x).tickValues(xTicks).tickFormat("").tickSize(-6));

  [yAxis, xAxis, xTop].forEach(function(a) {
    a.select(".domain").remove();
    a.selectAll(".tick line").attr("stroke", "#000").attr("stroke-width", 1);
    a.selectAll(".tick text")
      .attr("fill", "#000")
      .style("font-family", "'DejaVu Sans', sans-serif")
      .style("font-size", "19px");
  });

  return {y: y, plot: plot, p: p};
}

function frame(p) {
  svg.append("rect")
    .attr("x", left).attr("y", p.top)
    .attr("width", right - left).attr("height", p.bottom - p.top)
    .attr("fill", "none").attr("stroke", "#000").attr("stroke-width", 1.5);
}

function dots(panel, data, color) {
  panel.plot.append("g")
    .selectAll("circle")
    .data(data)
    .enter()
    .append("circle")
      .attr("cx", function(d) { return x(d[0]); })
      .attr("cy", function(d) { return panel.y(d[1]); })
      .attr("r", 3.3)
      .attr("fill", color);
}

function line(panel, data, color, width, dash, smooth) {
  var gen = d3.line()
    .x(function(d) { return x(d[0]); })
    .y(function(d) { return panel.y(d[1]); });
  if (smooth) gen.curve(d3.curveCatmullRom.alpha(0.5));
  var path = panel.plot.append("path")
    .datum(data)
    .attr("d", gen)
    .attr("fill", "none")
    .attr("stroke", color)
    .attr("stroke-width", width);
  if (dash) path.attr("stroke-dasharray", dash).attr("stroke-linecap", "round");
}

// ---------- panel a ----------
var a = makePanel(panelA, "clipA", yTicksA, ".2f", false);
dots(a, flatten(colsA, sparseA), "#000");
line(a, curve(tCurve, fitA), "#000", 1.6, null, true);
line(a, curve(trendT, trendA), "#000", 2.2, "0.1,7.2", false);
frame(panelA);

// ---------- panel b ----------
var b = makePanel(panelB, "clipB", yTicksB, ".1f", true);
dots(b, flatten(colsB, sparseB), "#000");
dots(b, flatten(colsR, sparseR), "#0000ff");
line(b, curve(trendT, [residLevel, residLevel]), "#0000ff", 2, "0.1,7.2", false);
line(b, curve(tCurve, fitB), "#000", 1.6, null, true);
line(b, curve(tCurve, greenB), "#008000", 1.6, null, true);
line(b, curve(tCurve, redB), "#ff0000", 1.8, null, true);
line(b, curve(tCurve, blueB), "#0000ff", 1.8, null, true);
frame(panelB);

// ---------- labels ----------
svg.append("text")
  .attr("transform", "translate(25,189) rotate(-90)")
  .attr("text-anchor", "middle")
  .style("font-family", "'DejaVu Serif', serif")
  .style("font-style", "italic")
  .style("font-size", "23px")
  .text("y");
svg.append("text")
  .attr("transform", "translate(33,561) rotate(-90)")
  .attr("text-anchor", "middle")
  .style("font-family", "'DejaVu Serif', serif")
  .style("font-style", "italic")
  .style("font-size", "23px")
  .text("y");

svg.append("text")
  .attr("x", 557).attr("y", 786)
  .attr("text-anchor", "middle")
  .style("font-size", "30px")
  .text("t");

svg.append("text")
  .attr("x", 964).attr("y", 52)
  .style("font-size", "27px")
  .text("a");
svg.append("text")
  .attr("x", 963).attr("y", 424)
  .style("font-size", "27px")
  .text("b");
</script>
</body>
</html>
